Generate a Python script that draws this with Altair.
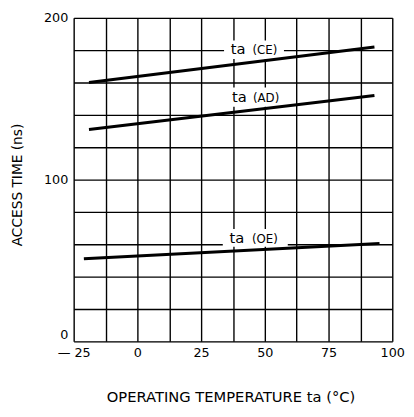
import altair as alt
import pandas as pd

# Curves (operating temperature in °C -> access time in ns)
ce_temp = [-19, 93]
ce_time = [160, 182]
ad_temp = [-19, 93]
ad_time = [131, 152]
oe_temp = [-21, 95]
oe_time = [51, 60.5]

# Curve labels
lab_names = ["CE", "AD", "OE"]
lab_main = ["ta", "ta", "ta"]
lab_sub = ["(CE)", "(AD)", "(OE)"]
lab_main_x = [39.5, 40, 39]
lab_sub_x = [50, 50.5, 50]
lab_y = [180.5, 151, 64]
# label background boxes (white gaps in the grid)
box_x1 = [34, 35, 33.5]
box_x2 = [57.5, 57.5, 59]
box_y1 = [174.5, 145, 58.5]
box_y2 = [186, 157, 69.5]

x_grid = [-25 + 12.5 * i for i in range(11)]
y_grid = [20 * i for i in range(11)]

rows = []
for name, t, v in [("CE", ce_temp, ce_time), ("AD", ad_temp, ad_time), ("OE", oe_temp, oe_time)]:
    for a, b in zip(t, v):
        rows.append({"curve": name, "temp": a, "time": b})
lines_df = pd.DataFrame(rows)
labels_df = pd.DataFrame({
    "curve": lab_names, "main": lab_main, "sub": lab_sub,
    "mx": lab_main_x, "sx": lab_sub_x, "y": lab_y,
    "x1": box_x1, "x2": box_x2, "y1": box_y1, "y2": box_y2,
})

FONT = "DejaVu Sans"

xscale = alt.Scale(domain=[-25, 100], nice=False, zero=False)
yscale = alt.Scale(domain=[0, 200], nice=False)

xaxis = alt.Axis(
    values=x_grid, grid=True, gridColor="black", gridWidth=1.4, gridOpacity=1,
    ticks=False, domain=False,
    labelExpr="datum.value == -25 ? '\u2014 25' : (datum.value % 25 == 0 ? datum.label : '')",
    labelFont=FONT, labelFontSize=13, labelColor="black", labelPadding=5,
    labelFlush=False, labelOverlap=False,
    title="OPERATING TEMPERATURE ta (\u00b0C)", titleFont=FONT, titleFontSize=15,
    titleFontWeight="normal", titleColor="black", titleX=160, titleY=56,
    titleBaseline="middle",
)
yaxis = alt.Axis(
    values=y_grid, grid=True, gridColor="black", gridWidth=1.4, gridOpacity=1,
    ticks=False, domain=False,
    labelExpr="datum.value % 100 == 0 ? datum.label : ''",
    labelBaseline={"condition": {"test": "datum.value == 0", "value": "bottom"}, "value": "middle"},
    labelFont=FONT, labelFontSize=13, labelColor="black", labelPadding=6,
    labelFlush=False, labelOverlap=False,
    title="ACCESS TIME (ns)", titleFont=FONT, titleFontSize=14,
    titleFontWeight="normal", titleColor="black", titleX=-57, titleY=170,
    titleAngle=-90, titleAlign="center", titleBaseline="middle",
)

base_lines = alt.Chart(lines_df).mark_line(color="black", strokeWidth=3).encode(
    x=alt.X("temp:Q", scale=xscale, axis=xaxis),
    y=alt.Y("time:Q", scale=yscale, axis=yaxis),
    detail="curve:N",
)

boxes = alt.Chart(labels_df).mark_rect(color="white").encode(
    x=alt.X("x1:Q", scale=xscale, axis=xaxis), x2="x2:Q",
    y=alt.Y("y1:Q", scale=yscale, axis=yaxis), y2="y2:Q",
)

main_txt = alt.Chart(labels_df).mark_text(
    font=FONT, fontSize=15, color="black", align="center", baseline="middle"
).encode(
    x=alt.X("mx:Q", scale=xscale, axis=xaxis),
    y=alt.Y("y:Q", scale=yscale, axis=yaxis), text="main:N"
)
sub_txt = alt.Chart(labels_df).mark_text(
    font=FONT, fontSize=12, color="black", align="center", baseline="middle", dy=1
).encode(
    x=alt.X("sx:Q", scale=xscale, axis=xaxis),
    y=alt.Y("y:Q", scale=yscale, axis=yaxis), text="sub:N"
)

chart = alt.layer(boxes, base_lines, main_txt, sub_txt).properties(
    width=325, height=330,
    autosize=alt.AutoSizeParams(type="none"),
    padding={"left": 67, "top": 6, "right": 14, "bottom": 65},
).configure_view(stroke="black", strokeWidth=3).configure(background="white")

chart.save("out.html", embed_options={"renderer": "svg", "actions": False})
